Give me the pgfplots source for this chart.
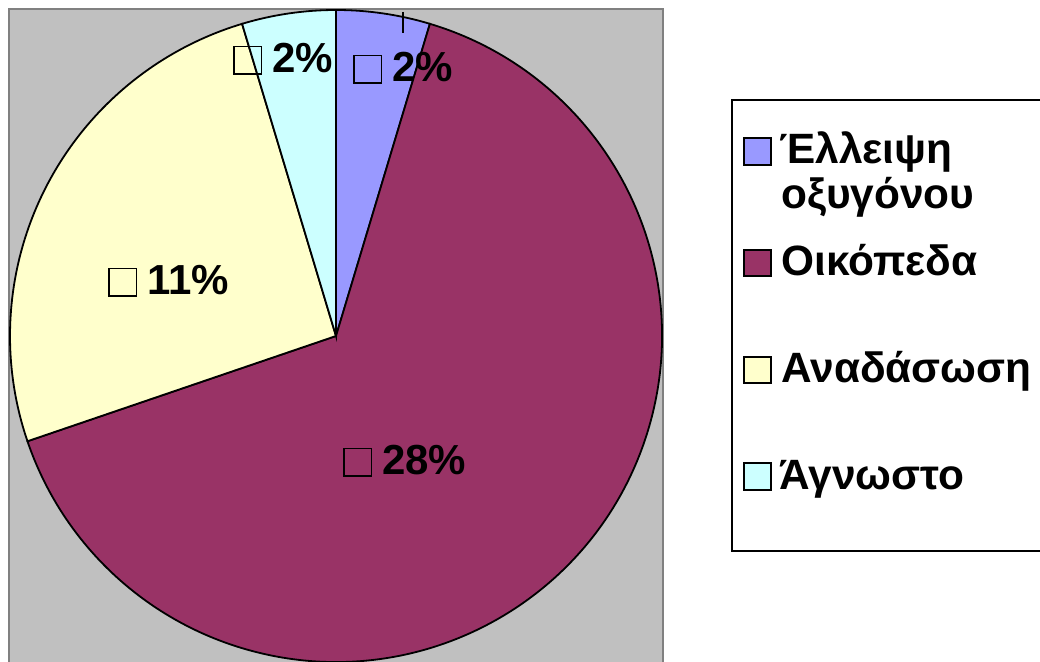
\documentclass[border=0pt]{standalone}
\usepackage{pgfplots}
\pgfplotsset{compat=1.18}
\usepackage{pgfplotstable}
\usepackage{fontspec}
\setmainfont{Liberation Sans}
\definecolor{cBlue}{HTML}{9999FF}
\definecolor{cMaroon}{HTML}{993366}
\definecolor{cYellow}{HTML}{FFFFCC}
\definecolor{cCyan}{HTML}{CCFFFF}
\definecolor{cGrey}{HTML}{C0C0C0}
\definecolor{cBorder}{HTML}{808080}
\newcommand\sq{{\setlength\fboxrule{0.8pt}\setlength\fboxsep{0pt}\fbox{\rule{0pt}{12.8pt}\hspace{12.8pt}}}}
\newcommand\labfont{\fontsize{21}{25}\selectfont\bfseries}
\newcommand\legfont{\fontsize{21.2}{25}\selectfont\bfseries}
\pgfplotstableread{
idx value
1 2
2 28
3 11
4 2
}\piedata
\begin{document}
\begin{tikzpicture}
\pgfplotstablegetelem{0}{value}\of\piedata \let\vA\pgfplotsretval
\pgfplotstablegetelem{1}{value}\of\piedata \let\vB\pgfplotsretval
\pgfplotstablegetelem{2}{value}\of\piedata \let\vC\pgfplotsretval
\pgfplotstablegetelem{3}{value}\of\piedata \let\vD\pgfplotsretval
\pgfmathsetmacro\tot{\vA+\vB+\vC+\vD}
\pgfmathsetmacro\aA{90}
\pgfmathsetmacro\aB{\aA-360*\vA/\tot}
\pgfmathsetmacro\aC{\aB-360*\vB/\tot}
\pgfmathsetmacro\aD{\aC-360*\vC/\tot}
\pgfmathsetmacro\aE{\aD-360*\vD/\tot}
\begin{axis}[name=ax, width=520pt, height=331pt, scale only axis,
  xmin=0, xmax=1040, ymin=0, ymax=662, hide axis, clip mode=global]
% plot area
\fill[cGrey] (axis cs:8,0) rectangle (axis cs:664,654);
\draw[cBorder, line width=1.2pt] (axis cs:9,0) -- (axis cs:9,653) -- (axis cs:663,653) -- (axis cs:663,0);
% wedges
\filldraw[fill=cBlue, draw=black, line width=0.9pt] (axis cs:336,326) -- ++(\aA:163pt) arc[start angle=\aA, end angle=\aB, radius=163pt] -- cycle;
\filldraw[fill=cMaroon, draw=black, line width=0.9pt] (axis cs:336,326) -- ++(\aB:163pt) arc[start angle=\aB, end angle=\aC, radius=163pt] -- cycle;
\filldraw[fill=cYellow, draw=black, line width=0.9pt] (axis cs:336,326) -- ++(\aC:163pt) arc[start angle=\aC, end angle=\aD, radius=163pt] -- cycle;
\filldraw[fill=cCyan, draw=black, line width=0.9pt] (axis cs:336,326) -- ++(\aD:163pt) arc[start angle=\aD, end angle=\aE, radius=163pt] -- cycle;
% leader line
\draw[black, line width=0.6pt] (axis cs:403,650) -- (axis cs:403,629);
% data labels
\node[anchor=base west, inner sep=0pt, font=\labfont] at (axis cs:353,580) {\sq\hspace{5pt}\vA\%};
\node[anchor=base west, inner sep=0pt, font=\labfont] at (axis cs:343,187) {\sq\hspace{5pt}\vB\%};
\node[anchor=base west, inner sep=0pt, font=\labfont] at (axis cs:108,367) {\sq\hspace{5pt}\vC\%};
\node[anchor=base west, inner sep=0pt, font=\labfont] at (axis cs:233,589) {\sq\hspace{5pt}\vD\%};
% legend
\draw[black, line width=1pt] (axis cs:1040,562) -- (axis cs:732,562) -- (axis cs:732,111) -- (axis cs:1040,111);
\filldraw[fill=cBlue, draw=black, line width=0.8pt] (axis cs:744,497) rectangle (axis cs:771,524);
\filldraw[fill=cMaroon, draw=black, line width=0.8pt] (axis cs:744,386) rectangle (axis cs:771,412);
\filldraw[fill=cYellow, draw=black, line width=0.8pt] (axis cs:744,279) rectangle (axis cs:771,305);
\filldraw[fill=cCyan, draw=black, line width=0.8pt] (axis cs:744,172) rectangle (axis cs:771,199);
\node[anchor=base west, inner sep=0pt, font=\legfont] at (axis cs:779,498) {Έλλειψη};
\node[anchor=base west, inner sep=0pt, font=\legfont] at (axis cs:781,453) {οξυγόνου};
\node[anchor=base west, inner sep=0pt, font=\legfont] at (axis cs:781,386) {Οικόπεδα};
\node[anchor=base west, inner sep=0pt, font=\legfont] at (axis cs:781,279) {Αναδάσωση};
\node[anchor=base west, inner sep=0pt, font=\legfont] at (axis cs:779,172) {Άγνωστο};
\end{axis}
\pgfresetboundingbox
\path (ax.south west) rectangle (ax.north east);
\end{tikzpicture}
\end{document}
